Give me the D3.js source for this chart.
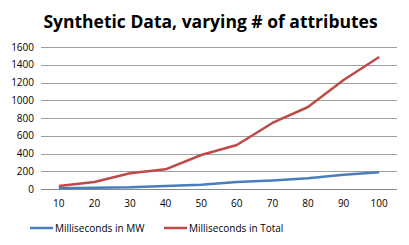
<!DOCTYPE html>
<html>
<head>
<meta charset="utf-8">
<script src="https://cdn.jsdelivr.net/npm/d3@7"></script>
<style>
  body { margin: 0; background: #fff; }
  svg text { font-family: "Open Sans", "DejaVu Sans", sans-serif; fill: #000; }
</style>
</head>
<body>
<div id="chart"></div>
<script>
// chart data
const attributes = [10, 20, 30, 40, 50, 60, 70, 80, 90, 100];
const msInMW = [8, 15, 20, 35, 48, 78, 95, 120, 160, 190];
const msInTotal = [34, 79, 177, 222, 383, 496, 744, 924, 1228, 1487];
const yTicks = [0, 200, 400, 600, 800, 1000, 1200, 1400, 1600];
const seriesNames = ["Milliseconds in MW", "Milliseconds in Total"];
const seriesColors = ["#4a7ebb", "#be4b48"];

const width = 409, height = 245;
const margin = { top: 47, right: 12, bottom: 56, left: 41 };
const w = width - margin.left - margin.right;
const h = height - margin.top - margin.bottom;

const svg = d3.select("#chart")
  .append("svg")
  .attr("width", width)
  .attr("height", height);

svg.append("text")
  .attr("x", width / 2 + 6)
  .attr("y", 28)
  .attr("text-anchor", "middle")
  .style("font-size", "17.5px")
  .style("font-weight", "bold")
  .text("Synthetic Data, varying # of attributes");

const g = svg.append("g")
  .attr("transform", `translate(${margin.left},${margin.top})`);

const x = d3.scaleBand().domain(attributes).range([0, w]);
const y = d3.scaleLinear().domain([0, 1600]).range([h, 0]);

// gridlines
g.selectAll(".grid")
  .data(yTicks)
  .enter()
  .append("line")
  .attr("x1", 0)
  .attr("x2", w)
  .attr("y1", d => Math.round(y(d)) + 0.5)
  .attr("y2", d => Math.round(y(d)) + 0.5)
  .attr("stroke", d => d === 0 ? "#888" : "#a0a0a0")
  .attr("stroke-width", 1);

// y labels
g.selectAll(".ylab")
  .data(yTicks)
  .enter()
  .append("text")
  .attr("x", -7)
  .attr("y", d => y(d))
  .attr("dy", "0.35em")
  .attr("text-anchor", "end")
  .style("font-size", "10px")
  .text(d => d);

// x labels
g.selectAll(".xlab")
  .data(attributes)
  .enter()
  .append("text")
  .attr("x", d => x(d) + x.bandwidth() / 2)
  .attr("y", h + 18)
  .attr("text-anchor", "middle")
  .style("font-size", "10px")
  .text(d => d);

const line = d3.line()
  .x((d, i) => x(attributes[i]) + x.bandwidth() / 2)
  .y(d => y(d));

[msInMW, msInTotal].forEach((vals, i) => {
  g.append("path")
    .datum(vals)
    .attr("fill", "none")
    .attr("stroke", seriesColors[i])
    .attr("stroke-width", 2.5)
    .attr("stroke-linejoin", "round")
    .attr("d", line);
});

// legend
const legendX = [30, 164];
seriesNames.forEach((name, i) => {
  const lg = svg.append("g").attr("transform", `translate(${legendX[i]},228)`);
  lg.append("line")
    .attr("x1", 0).attr("x2", 23)
    .attr("y1", 0).attr("y2", 0)
    .attr("stroke", seriesColors[i])
    .attr("stroke-width", 2.5);
  lg.append("text")
    .attr("x", 25)
    .attr("y", 0)
    .attr("dy", "0.35em")
    .style("font-size", "10px")
    .text(name);
});
</script>
</body>
</html>
